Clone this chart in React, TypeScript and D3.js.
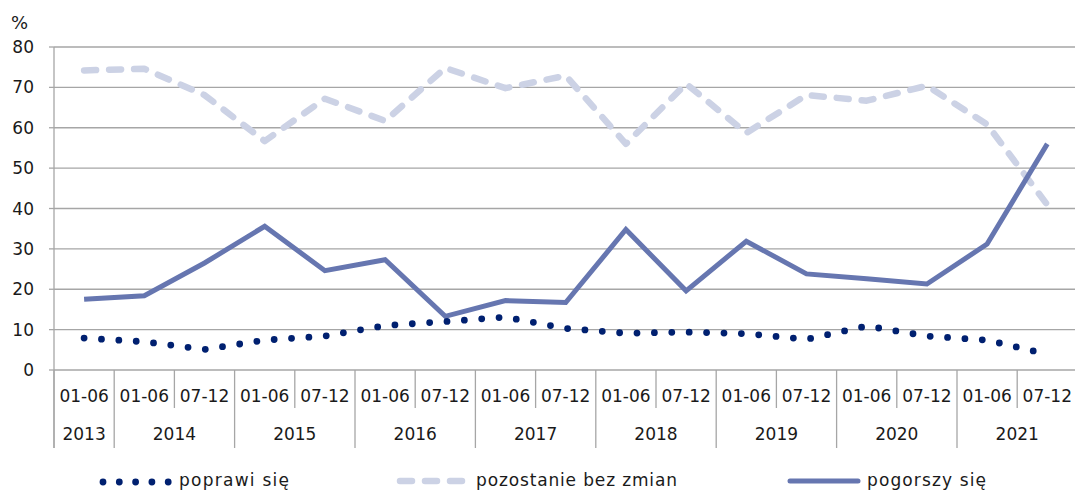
import React from 'react';
import * as d3 from 'd3';

// half-year periods on the x axis
const periodLabels = [
  '01-06',
  '01-06', '07-12',
  '01-06', '07-12',
  '01-06', '07-12',
  '01-06', '07-12',
  '01-06', '07-12',
  '01-06', '07-12',
  '01-06', '07-12',
  '01-06', '07-12',
];
const periodYears = [
  '2013',
  '2014', '2014',
  '2015', '2015',
  '2016', '2016',
  '2017', '2017',
  '2018', '2018',
  '2019', '2019',
  '2020', '2020',
  '2021', '2021',
];

const improve = [7.9, 7.0, 5.1, 7.4, 8.4, 11.0, 12.0, 13.1, 10.3, 9.1, 9.4, 9.0, 7.6, 10.9, 8.4, 7.4, 3.9];
const unchanged = [74.2, 74.6, 68.1, 56.7, 67.2, 61.7, 74.8, 69.8, 72.9, 56.0, 70.9, 58.7, 68.1, 66.7, 70.4, 60.8, 40.9];
const worsen = [17.5, 18.4, 26.5, 35.6, 24.6, 27.3, 13.3, 17.2, 16.7, 34.8, 19.6, 31.9, 23.8, 22.6, 21.3, 31.2, 56.0];

const yTicks = [0, 10, 20, 30, 40, 50, 60, 70, 80];

const legendNames = ['poprawi się', 'pozostanie bez zmian', 'pogorszy się'];

const FONT = '"DejaVu Sans", sans-serif';
const GRID = '#a6a6a6';
const INK = '#1a1a1a';
const C_IMPROVE = '#002070';
const C_UNCHANGED = '#ccd2e5';
const C_WORSEN = '#6676b0';

export default function App() {
  const width = 1075;
  const height = 492;
  const left = 54;
  const band = 60.2;
  const idx = periodLabels.map((_, i) => i);

  const x = d3.scaleBand<number>()
    .domain(idx)
    .range([left, left + band * idx.length])
    .padding(0);
  const y = d3.scaleLinear().domain([0, 80]).range([370, 47]);

  const cx = (i: number) => (x(i) as number) + x.bandwidth() / 2;
  const line = d3.line<number>().x((_, i) => cx(i)).y(d => y(d));

  const axisY = y(0);
  const xRight = left + band * idx.length;

  // boundaries between periods; long ones where the year changes
  const bounds = d3.range(idx.length + 1).map(i => {
    const long = i === 0 || i === idx.length || periodYears[i] !== periodYears[i - 1];
    return { x: i === idx.length ? xRight : (x(i) as number), long };
  });

  const yearGroups = d3.groups(idx, i => periodYears[i]);

  return (
    <svg width={width} height={height} style={{ position: 'absolute', left: 0, top: 0 }} fontFamily={FONT}>
      <rect width={width} height={height} fill="#fff" />

      {/* grid */}
      {yTicks.map(t => (
        <g key={t}>
          <line x1={left} x2={xRight} y1={y(t)} y2={y(t)} stroke={GRID} strokeWidth={1.3} />
          <line x1={left - 5} x2={left} y1={y(t)} y2={y(t)} stroke={GRID} strokeWidth={1.3} />
          <text x={34} y={y(t)} dy="0.36em" textAnchor="end" fontSize={17} fill={INK}>{t}</text>
        </g>
      ))}
      <text x={11} y={29} fontSize={18} fill={INK}>%</text>
      <line x1={left} x2={left} y1={y(80)} y2={448} stroke={GRID} strokeWidth={1.3} />

      {/* category separators */}
      {bounds.map((b, i) => (
        <line key={i} x1={b.x} x2={b.x} y1={axisY} y2={b.long ? 448 : 408} stroke={GRID} strokeWidth={1.3} />
      ))}
      {idx.map(i => (
        <text key={i} x={cx(i)} y={396} dy="0.36em" textAnchor="middle" fontSize={17} fill={INK}>
          {periodLabels[i]}
        </text>
      ))}
      {yearGroups.map(([yr, is]) => {
        const mid = ((x(is[0]) as number) + (x(is[is.length - 1]) as number) + x.bandwidth()) / 2;
        return (
          <text key={yr} x={mid} y={434} dy="0.36em" textAnchor="middle" fontSize={17} fill={INK}>{yr}</text>
        );
      })}

      {/* series */}
      <path d={line(unchanged) || ''} fill="none" stroke={C_UNCHANGED} strokeWidth={6.5}
        strokeDasharray="12 13" strokeLinecap="round" strokeLinejoin="round" />
      <path d={line(worsen) || ''} fill="none" stroke={C_WORSEN} strokeWidth={5} strokeLinejoin="miter" />
      <path d={line(improve) || ''} fill="none" stroke={C_IMPROVE} strokeWidth={6.8}
        strokeDasharray="0 17.4" strokeLinecap="round" />

      {/* legend */}
      <line x1={103} x2={169} y1={482} y2={482} stroke={C_IMPROVE} strokeWidth={6.8}
        strokeDasharray="0 16.3" strokeLinecap="round" />
      <text x={179} y={486} fontSize={17} fill={INK} textLength={110} lengthAdjust="spacing">{legendNames[0]}</text>
      <line x1={400} x2={462} y1={481} y2={481} stroke={C_UNCHANGED} strokeWidth={6.5}
        strokeDasharray="12 13" strokeLinecap="round" />
      <text x={476} y={486} fontSize={17} fill={INK} textLength={201} lengthAdjust="spacing">{legendNames[1]}</text>
      <line x1={790} x2={858} y1={481} y2={481} stroke={C_WORSEN} strokeWidth={5} strokeLinecap="round" />
      <text x={867} y={486} fontSize={17} fill={INK} textLength={119} lengthAdjust="spacing">{legendNames[2]}</text>
    </svg>
  );
}
